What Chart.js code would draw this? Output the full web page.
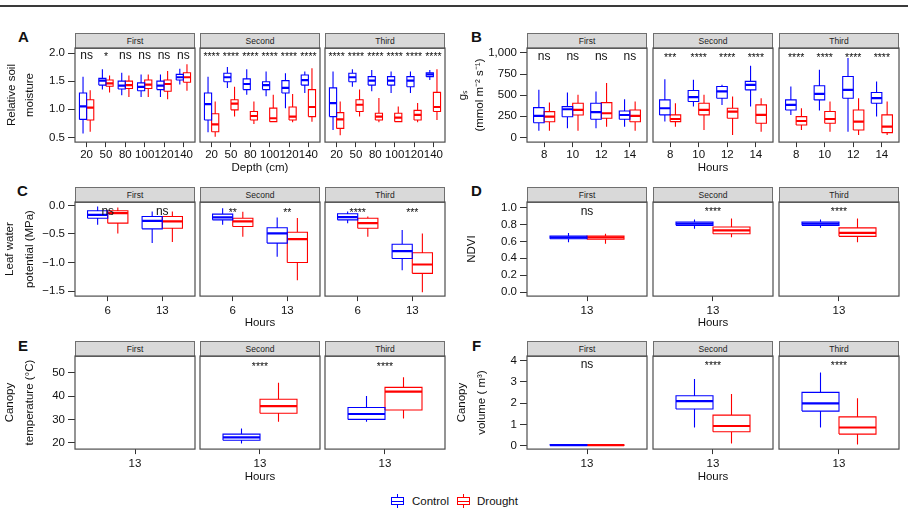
<!DOCTYPE html>
<html>
<head>
<meta charset="utf-8">
<script src="https://cdn.jsdelivr.net/npm/chart.js@4.4.0/dist/chart.umd.min.js"></script>
<style>
  body { margin: 0; width: 908px; height: 512px; background: #fff; position: relative; overflow: hidden;
         font-family: "Liberation Sans", Arial, sans-serif; color: #111; }
  canvas { position: absolute; }
  .strip { position: absolute; height: 16px; box-sizing: border-box; background: #d9d9d9;
           border: 1px solid #6f6f6f; font-size: 8.5px; line-height: 14px; text-align: center; color: #222; }
  .letter { position: absolute; font-weight: bold; font-size: 15px; }
  .topline { position: absolute; left: 0; top: 5px; width: 908px; height: 1.6px; background: #3a3a3a; }
  .legend { position: absolute; top: 494px; font-size: 11.5px; }
  .key { position: absolute; width: 13px; height: 14px; }
  .key div { position: absolute; }
</style>
</head>
<body>
<div class="topline"></div>
<div class="letter" style="left:18px;top:28px">A</div>
<div class="letter" style="left:471px;top:28px">B</div>
<div class="letter" style="left:17px;top:182px">C</div>
<div class="letter" style="left:471px;top:182px">D</div>
<div class="letter" style="left:18px;top:337px">E</div>
<div class="letter" style="left:472px;top:337px">F</div>

<div class="legend" style="left:391px">
  <div class="key" style="left:0;top:0">
    <div style="left:6px;top:0;width:1.2px;height:14px;background:#0000ff"></div>
    <div style="left:0;top:3px;width:13px;height:8px;box-sizing:border-box;border:1.2px solid #0000ff;background:#fff"></div>
    <div style="left:0;top:6.5px;width:13px;height:1.4px;background:#0000ff"></div>
  </div>
  <span style="position:absolute;left:21px;top:0;line-height:14px">Control</span>
</div>
<div class="legend" style="left:457px">
  <div class="key" style="left:0;top:0">
    <div style="left:6px;top:0;width:1.2px;height:14px;background:#ff0000"></div>
    <div style="left:0;top:3px;width:13px;height:8px;box-sizing:border-box;border:1.2px solid #ff0000;background:#fff"></div>
    <div style="left:0;top:6.5px;width:13px;height:1.4px;background:#ff0000"></div>
  </div>
  <span style="position:absolute;left:20px;top:0;line-height:14px">Drought</span>
</div>

<script>
// Facets and categories
const facetNames = ['First', 'Second', 'Third'];
const depthCats = ['20', '50', '80', '100', '120', '140'];
const gsHours = ['8', '10', '12', '14'];
const lwpHours = ['6', '13'];
const noonHour = ['13'];

// Tick labels
const soilTicks = [0.5, 1.0, 1.5, 2.0];
const gsTicks = [0, 250, 500, 750, 1000];
const lwpTicks = [0, -0.5, -1.0, -1.5];
const ndviTicks = [0, 0.2, 0.4, 0.6, 0.8, 1.0];
const tempTicks = [20, 30, 40, 50];
const volTicks = [0, 1, 2, 3, 4];

// Box stats per category: [lower whisker, Q1, median, Q3, upper whisker], one list per facet
const soilControl = [
  [[0.57, 0.82, 1.05, 1.29, 1.58], [1.35, 1.43, 1.51, 1.55, 1.71], [1.25, 1.36, 1.42, 1.50, 1.65],
   [1.22, 1.33, 1.40, 1.47, 1.62], [1.22, 1.35, 1.42, 1.50, 1.62], [1.44, 1.52, 1.57, 1.62, 1.72]],
  [[0.59, 0.81, 1.09, 1.29, 1.58], [1.38, 1.49, 1.57, 1.64, 1.75], [1.26, 1.35, 1.45, 1.54, 1.71],
   [1.23, 1.35, 1.43, 1.49, 1.67], [1.02, 1.29, 1.38, 1.51, 1.64], [1.29, 1.43, 1.52, 1.61, 1.67]],
  [[0.63, 0.87, 1.11, 1.38, 1.67], [1.40, 1.49, 1.57, 1.64, 1.71], [1.32, 1.43, 1.51, 1.58, 1.70],
   [1.29, 1.43, 1.51, 1.58, 1.67], [1.29, 1.40, 1.51, 1.58, 1.67], [1.52, 1.58, 1.62, 1.65, 1.70]]
];
const soilDrought = [
  [[0.60, 0.81, 1.03, 1.17, 1.34], [1.30, 1.41, 1.46, 1.52, 1.60], [1.22, 1.37, 1.43, 1.50, 1.60],
   [1.22, 1.37, 1.44, 1.52, 1.62], [1.18, 1.32, 1.45, 1.52, 1.68], [1.33, 1.48, 1.57, 1.65, 1.80]],
  [[0.51, 0.60, 0.73, 0.92, 1.14], [0.87, 0.99, 1.10, 1.17, 1.40], [0.74, 0.81, 0.88, 0.96, 1.14],
   [0.77, 0.78, 0.84, 1.02, 1.26], [0.77, 0.81, 0.87, 1.04, 1.27], [0.78, 0.87, 1.04, 1.35, 1.73]],
  [[0.54, 0.66, 0.82, 0.94, 1.14], [0.87, 0.96, 1.08, 1.17, 1.35], [0.77, 0.81, 0.87, 0.93, 1.20],
   [0.77, 0.78, 0.85, 0.93, 1.05], [0.77, 0.81, 0.90, 0.98, 1.11], [0.81, 0.96, 1.04, 1.30, 1.71]]
];
const gsControl = [
  [[79, 174, 254, 352, 563], [107, 245, 333, 364, 531], [107, 214, 298, 405, 543], [126, 214, 265, 313, 452]],
  [[187, 266, 345, 444, 690], [365, 425, 476, 556, 683], [385, 464, 544, 603, 623], [365, 563, 623, 663, 849]],
  [[266, 325, 385, 444, 603], [317, 444, 516, 611, 802], [67, 464, 563, 722, 940], [246, 405, 464, 532, 663]]
];
const gsDrought = [
  [[79, 186, 245, 305, 412], [79, 265, 325, 405, 504], [126, 226, 286, 412, 643], [79, 186, 254, 325, 424]],
  [[127, 187, 218, 266, 405], [87, 266, 325, 405, 504], [28, 226, 306, 345, 484], [67, 167, 266, 385, 464]],
  [[87, 147, 194, 246, 345], [67, 167, 218, 306, 425], [28, 87, 187, 325, 464], [28, 56, 127, 266, 425]]
];
const lwpControl = [
  [[-0.34, -0.224, -0.165, -0.094, -0.02], [-0.66, -0.41, -0.27, -0.194, -0.106]],
  [[-0.34, -0.253, -0.21, -0.153, -0.05], [-0.90, -0.66, -0.49, -0.39, -0.21]],
  [[-0.31, -0.253, -0.206, -0.147, -0.106], [-1.135, -0.93, -0.80, -0.68, -0.43]]
];
const lwpDrought = [
  [[-0.49, -0.31, -0.135, -0.094, -0.035], [-0.64, -0.40, -0.28, -0.194, -0.106]],
  [[-0.55, -0.37, -0.28, -0.224, -0.11], [-1.31, -1.0, -0.59, -0.47, -0.22]],
  [[-0.55, -0.40, -0.31, -0.224, -0.194], [-1.52, -1.19, -1.035, -0.83, -0.49]]
];
const ndviControl = [[[0.59, 0.632, 0.648, 0.664, 0.70]], [[0.75, 0.79, 0.81, 0.83, 0.86]], [[0.76, 0.79, 0.81, 0.83, 0.86]]];
const ndviDrought = [[[0.573, 0.625, 0.648, 0.664, 0.69]], [[0.65, 0.69, 0.73, 0.77, 0.87]], [[0.59, 0.66, 0.70, 0.76, 0.87]]];
const tempControl = [[], [[19.7, 21.1, 22.3, 23.7, 26.1]], [[29, 30, 32.3, 35.1, 40]]];
const tempDrought = [[], [[29, 32.6, 35.7, 38.6, 45.7]], [[30.4, 34, 41.9, 43.7, 48]]];
const volControl = [[[0, 0.02, 0.03, 0.05, 0.08]], [[0.86, 1.73, 2.10, 2.35, 3.14]], [[0.86, 1.63, 1.99, 2.51, 3.44]]];
const volDrought = [[[0, 0.02, 0.03, 0.05, 0.08]], [[0.11, 0.66, 0.93, 1.44, 2.43]], [[0.06, 0.55, 0.86, 1.36, 2.23]]];

// Significance labels
const soilSig = [['ns', '*', 'ns', 'ns', 'ns', 'ns'],
                 ['****', '****', '****', '****', '****', '****'],
                 ['****', '****', '****', '****', '****', '****']];
const gsSig = [['ns', 'ns', 'ns', 'ns'], ['***', '****', '****', '****'], ['****', '****', '****', '****']];
const lwpSig = [['ns', 'ns'], ['**', '**'], ['****', '***']];
const ndviSig = [['ns'], ['****'], ['****']];
const tempSig = [[], ['****'], ['****']];
const volSig = [['ns'], ['****'], ['****']];

const BLUE = '#0000ff', RED = '#ff0000';
const FONT = '"Liberation Sans", Arial, sans-serif';
const BOX_W = 0.37, DODGE = 0.185;

// layout
const colStart = [0, 450];
const facetLefts = [[75, 200, 325], [527, 653, 779]];
const FACET_W = 120;
const rows = [
  { strip: 33, top: 48, bottom: 142, titleC: 168, tickPad: 1 },
  { strip: 187, top: 202, bottom: 296, titleC: 323, tickPad: 3 },
  { strip: 341, top: 356, bottom: 449, titleC: 477, tickPad: 3 }
];

const fmt1 = v => v.toFixed(1);
// sigY is the text baseline of the significance labels, in data units
const panels = [
  { row: 0, col: 0, cats: depthCats, ctrl: soilControl, drt: soilDrought, sig: soilSig, ticks: soilTicks,
    fmt: fmt1, yMin: 0.416, yMax: 2.09, sigY: 1.893, yTitle: ['Relative soil', 'moisture'], lh: 18.3, pad: 2.5, xTitle: 'Depth (cm)' },
  { row: 0, col: 1, cats: gsHours, ctrl: gsControl, drt: gsDrought, sig: gsSig, ticks: gsTicks,
    fmt: v => v.toLocaleString('en-US'), yMin: -56, yMax: 1059, sigY: 920, yTitle: ['gₛ', '(mmol m⁻² s⁻¹)'], lh: 17.3, pad: 4, xTitle: 'Hours' },
  { row: 1, col: 0, cats: lwpHours, ctrl: lwpControl, drt: lwpDrought, sig: lwpSig, ticks: lwpTicks,
    fmt: v => (v < 0 ? '\u2212' : '') + Math.abs(v).toFixed(1), yMin: -1.588, yMax: 0.06, sigY: -0.164,
    yTitle: ['Leaf water', 'potential (MPa)'], lh: 19.3, pad: 0.4, xTitle: 'Hours' },
  { row: 1, col: 1, cats: noonHour, ctrl: ndviControl, drt: ndviDrought, sig: ndviSig, ticks: ndviTicks,
    fmt: fmt1, yMin: -0.047, yMax: 1.066, sigY: 0.917, yTitle: ['NDVI'], lh: 13.8, pad: 14.8, xTitle: 'Hours' },
  { row: 2, col: 0, cats: noonHour, ctrl: tempControl, drt: tempDrought, sig: tempSig, ticks: tempTicks,
    fmt: v => String(v), yMin: 17.3, yMax: 57.1, sigY: 51.6, yTitle: ['Canopy', 'temperature (°C)'], lh: 20, pad: 0, xTitle: 'Hours' },
  { row: 2, col: 1, cats: noonHour, ctrl: volControl, drt: volDrought, sig: volSig, ticks: volTicks,
    fmt: v => String(v), yMin: -0.155, yMax: 4.22, sigY: 3.64, yTitle: ['Canopy', 'volume ( m³)'], lh: 20, pad: 1.7, xTitle: 'Hours' }
];

// turn box stats into line segments (box outline + whiskers) and median segments
function boxLines(stats, shift) {
  const outline = [], medians = [];
  stats.forEach((s, i) => {
    const c = i + 1 + shift, x0 = c - BOX_W / 2, x1 = c + BOX_W / 2;
    const [lo, q1, med, q3, hi] = s;
    outline.push({ x: x0, y: q1 }, { x: x1, y: q1 }, { x: x1, y: q3 }, { x: x0, y: q3 }, { x: x0, y: q1 }, { x: c, y: null },
                 { x: c, y: q3 }, { x: c, y: hi }, { x: c, y: null },
                 { x: c, y: q1 }, { x: c, y: lo }, { x: c, y: null });
    medians.push({ x: x0, y: med }, { x: x1, y: med }, { x: c, y: null });
  });
  return { outline, medians };
}

const framePlugin = {
  id: 'frame',
  afterDatasetsDraw(chart) {
    const { ctx, chartArea: a } = chart;
    ctx.save();
    ctx.strokeStyle = '#4d4d4d';
    ctx.lineWidth = 1.2;
    ctx.strokeRect(a.left, a.top, a.right - a.left, a.bottom - a.top);
    ctx.restore();
  }
};

const sigPlugin = {
  id: 'sig',
  afterDatasetsDraw(chart, args, opts) {
    const { ctx, scales: { x, y } } = chart;
    ctx.save();
    ctx.fillStyle = '#111';
    ctx.textAlign = 'center';
    ctx.textBaseline = 'alphabetic';
    (opts.labels || []).forEach((t, i) => {
      const stars = t.startsWith('*');
      ctx.font = (stars ? '10.5px ' : '12px ') + FONT;
      ctx.fillText(t, x.getPixelForValue(i + 1), y.getPixelForValue(opts.y) + (stars ? 0.8 : 0));
    });
    ctx.restore();
  }
};

function lineSet(data, color, width) {
  return { data, borderColor: color, borderWidth: width, pointRadius: 0, fill: false, tension: 0,
           spanGaps: false, borderCapStyle: 'butt', borderJoinStyle: 'miter' };
}

panels.forEach(p => {
  const r = rows[p.row];
  facetNames.forEach((name, f) => {
    const left = facetLefts[p.col][f];
    const first = f === 0;

    const strip = document.createElement('div');
    strip.className = 'strip';
    strip.style.left = left + 'px';
    strip.style.top = r.strip + 'px';
    strip.style.width = FACET_W + 'px';
    strip.textContent = name;
    document.body.appendChild(strip);

    const axisW = first ? left - colStart[p.col] : 0;
    const xH = r.titleC - r.bottom + 6.9;
    const cv = document.createElement('canvas');
    const cLeft = first ? colStart[p.col] : left - 1;
    const cW = first ? axisW + FACET_W + 1 : FACET_W + 2;
    const cH = Math.round(r.bottom - r.top + xH + 1);
    cv.width = cW; cv.height = cH;
    cv.style.left = cLeft + 'px';
    cv.style.top = (r.top - 1) + 'px';
    cv.style.width = cW + 'px';
    cv.style.height = cH + 'px';
    document.body.appendChild(cv);

    const c = boxLines(p.ctrl[f], -DODGE);
    const d = boxLines(p.drt[f], DODGE);
    const cats = p.cats;

    new Chart(cv, {
      type: 'line',
      data: {
        datasets: [
          lineSet(c.outline, BLUE, 1.1), lineSet(c.medians, BLUE, 2.2),
          lineSet(d.outline, RED, 1.1), lineSet(d.medians, RED, 2.2)
        ]
      },
      options: {
        responsive: false, animation: false, events: [],
        layout: { padding: { top: 1, right: 1, left: first ? 0 : 1, bottom: 0 } },
        plugins: { legend: { display: false }, tooltip: { enabled: false },
                   sig: { labels: p.sig[f], y: p.sigY } },
        scales: {
          x: {
            type: 'linear', min: 0.4, max: cats.length + 0.6,
            afterBuildTicks: s => { s.ticks = cats.map((_, i) => ({ value: i + 1 })); },
            afterFit: s => { s.height = xH; s.paddingLeft = 0; s.paddingRight = 0; },
            ticks: { autoSkip: false, maxRotation: 0, padding: r.tickPad, color: '#111',
                     font: { family: FONT, size: 11.5 }, callback: (v, i) => cats[i] },
            grid: { drawOnChartArea: false, drawTicks: true, tickLength: 5, color: '#333', lineWidth: 1 },
            border: { display: false },
            title: { display: f === 1, text: p.xTitle, color: '#111', padding: 0,
                     font: { family: FONT, size: 11.5, lineHeight: 1.2 } }
          },
          y: {
            type: 'linear', display: first, min: p.yMin, max: p.yMax,
            afterBuildTicks: s => { s.ticks = p.ticks.map(v => ({ value: v })); },
            afterFit: s => { s.width = axisW; s.paddingTop = 0; s.paddingBottom = 0; },
            ticks: { padding: 3, color: '#111', font: { family: FONT, size: 11.5 }, callback: v => p.fmt(v) },
            grid: { drawOnChartArea: false, drawTicks: true, tickLength: 7, color: '#333', lineWidth: 1 },
            border: { display: false },
            title: { display: true, text: p.yTitle, color: '#111', padding: { top: p.pad, bottom: 0 },
                     font: { family: FONT, size: 11.5, lineHeight: p.lh / 11.5 } }
          }
        }
      },
      plugins: [framePlugin, sigPlugin]
    });
  });
});
</script>
</body>
</html>
